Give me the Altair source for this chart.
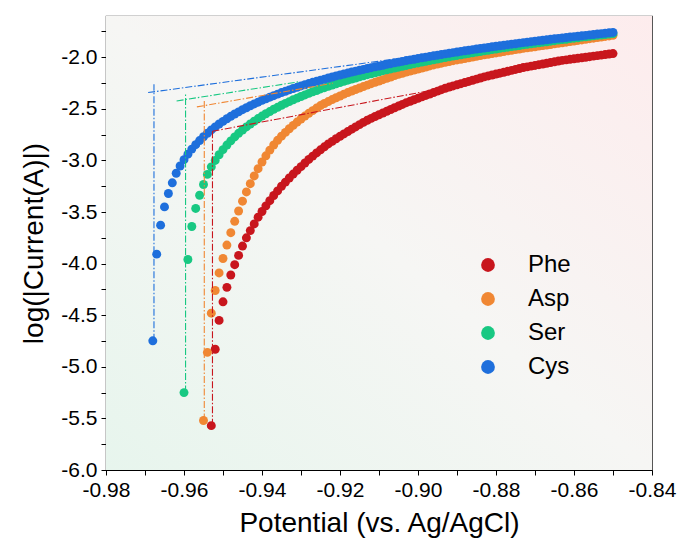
import altair as alt
import pandas as pd

SERIES = ["Phe", "Asp", "Ser", "Cys"]
COLORS = ["#C8161D", "#F08733", "#18C882", "#1E6FDC"]

# potential sweep (V vs Ag/AgCl)
POT = [-0.968, -0.967, -0.966, -0.965, -0.964, -0.963, -0.962, -0.961, -0.960, -0.959,
       -0.958, -0.957, -0.956, -0.955, -0.954, -0.953, -0.952, -0.951, -0.950, -0.949,
       -0.948, -0.947, -0.946, -0.945, -0.944, -0.943, -0.942, -0.941, -0.940, -0.939,
       -0.938, -0.937, -0.936, -0.935, -0.934, -0.933, -0.932, -0.931, -0.930, -0.929,
       -0.928, -0.927, -0.926, -0.925, -0.924, -0.923, -0.922, -0.921, -0.920, -0.919,
       -0.918, -0.917, -0.916, -0.915, -0.914, -0.913, -0.912, -0.911, -0.910, -0.909,
       -0.908, -0.907, -0.906, -0.905, -0.904, -0.903, -0.902, -0.901, -0.900, -0.899,
       -0.898, -0.897, -0.896, -0.895, -0.894, -0.893, -0.892, -0.891, -0.890, -0.889,
       -0.888, -0.887, -0.886, -0.885, -0.884, -0.883, -0.882, -0.881, -0.880, -0.879,
       -0.878, -0.877, -0.876, -0.875, -0.874, -0.873, -0.872, -0.871, -0.870, -0.869,
       -0.868, -0.867, -0.866, -0.865, -0.864, -0.863, -0.862, -0.861, -0.860, -0.859,
       -0.858, -0.857, -0.856, -0.855, -0.854, -0.853, -0.852, -0.851, -0.850]

PHE = [-5.57, -4.83, -4.55, -4.37, -4.23, -4.11, -4.01, -3.92, -3.83, -3.75,
       -3.68, -3.615, -3.55, -3.495, -3.44, -3.39, -3.34, -3.295, -3.25, -3.21,
       -3.17, -3.132, -3.095, -3.06, -3.025, -2.99, -2.958, -2.927, -2.897, -2.868,
       -2.84, -2.815, -2.79, -2.766, -2.743, -2.72, -2.697, -2.675, -2.653, -2.631,
       -2.61, -2.592, -2.574, -2.557, -2.54, -2.523, -2.506, -2.489, -2.473, -2.457,
       -2.44, -2.426, -2.412, -2.398, -2.384, -2.37, -2.356, -2.342, -2.328, -2.314,
       -2.30, -2.289, -2.278, -2.267, -2.256, -2.245, -2.234, -2.223, -2.212, -2.201,
       -2.19, -2.181, -2.172, -2.163, -2.154, -2.145, -2.136, -2.127, -2.118, -2.109,
       -2.10, -2.093, -2.086, -2.079, -2.072, -2.065, -2.058, -2.051, -2.044, -2.037,
       -2.03, -2.025, -2.02, -2.015, -2.01, -2.005, -2.0, -1.994, -1.989, -1.984,
       -1.979, -1.974, -1.969, -1.964]

ASP = [-5.52, -4.86, -4.48, -4.26, -4.09, -3.95, -3.82, -3.70, -3.59, -3.49,
       -3.395, -3.305, -3.225, -3.15, -3.08, -3.015, -2.955, -2.9, -2.85, -2.805,
       -2.765, -2.728, -2.693, -2.66, -2.628, -2.598, -2.57, -2.543, -2.517, -2.492,
       -2.468, -2.448, -2.429, -2.41, -2.392, -2.375, -2.358, -2.342, -2.327, -2.312,
       -2.298, -2.284, -2.27, -2.256, -2.243, -2.23, -2.217, -2.204, -2.191, -2.178,
       -2.166, -2.155, -2.144, -2.134, -2.124, -2.114, -2.104, -2.094, -2.084, -2.074,
       -2.065, -2.057, -2.049, -2.041, -2.033, -2.026, -2.019, -2.012, -2.005, -1.998,
       -1.991, -1.984, -1.977, -1.971, -1.964, -1.958, -1.951, -1.945, -1.938, -1.932,
       -1.926, -1.92, -1.914, -1.909, -1.903, -1.898, -1.892, -1.887, -1.881, -1.876,
       -1.87, -1.865, -1.859, -1.854, -1.848, -1.843, -1.837, -1.832, -1.826, -1.82,
       -1.815, -1.809, -1.804, -1.798, -1.793, -1.787]

SER = [-5.25, -3.96, -3.64, -3.465, -3.337, -3.233, -3.135, -3.062, -3.0, -2.945,
       -2.895, -2.851, -2.81, -2.772, -2.737, -2.705, -2.675, -2.647, -2.62, -2.594,
       -2.57, -2.547, -2.526, -2.504, -2.485, -2.465, -2.447, -2.43, -2.412, -2.396,
       -2.38, -2.365, -2.35, -2.334, -2.322, -2.307, -2.295, -2.282, -2.269, -2.257,
       -2.245, -2.233, -2.222, -2.211, -2.201, -2.19, -2.179, -2.169, -2.16, -2.15,
       -2.14, -2.13, -2.122, -2.113, -2.104, -2.096, -2.087, -2.079, -2.071, -2.062,
       -2.055, -2.047, -2.04, -2.032, -2.025, -2.017, -2.009, -2.003, -1.995, -1.989,
       -1.982, -1.976, -1.969, -1.963, -1.956, -1.95, -1.944, -1.938, -1.932, -1.925,
       -1.92, -1.914, -1.908, -1.902, -1.897, -1.892, -1.886, -1.88, -1.875, -1.87,
       -1.865, -1.859, -1.854, -1.85, -1.844, -1.839, -1.834, -1.829, -1.825, -1.819,
       -1.815, -1.811, -1.805, -1.801, -1.797, -1.792, -1.788, -1.784, -1.779, -1.775,
       -1.771]

CYS = [-4.748, -3.908, -3.627, -3.45, -3.32, -3.217, -3.124, -3.054, -2.992, -2.939,
       -2.89, -2.847, -2.807, -2.77, -2.736, -2.704, -2.675, -2.647, -2.621, -2.596,
       -2.572, -2.55, -2.529, -2.508, -2.489, -2.47, -2.452, -2.435, -2.418, -2.403,
       -2.387, -2.372, -2.357, -2.342, -2.33, -2.316, -2.303, -2.291, -2.278, -2.266,
       -2.255, -2.243, -2.233, -2.222, -2.212, -2.201, -2.191, -2.181, -2.172, -2.162,
       -2.153, -2.143, -2.135, -2.126, -2.118, -2.109, -2.101, -2.092, -2.085, -2.077,
       -2.069, -2.062, -2.054, -2.047, -2.04, -2.032, -2.025, -2.019, -2.011, -2.005,
       -1.999, -1.992, -1.986, -1.98, -1.973, -1.967, -1.961, -1.955, -1.949, -1.943,
       -1.937, -1.932, -1.926, -1.92, -1.915, -1.91, -1.905, -1.898, -1.894, -1.889,
       -1.884, -1.878, -1.873, -1.869, -1.863, -1.858, -1.854, -1.849, -1.844, -1.839,
       -1.835, -1.831, -1.826, -1.821, -1.817, -1.813, -1.809, -1.804, -1.80, -1.796,
       -1.792, -1.788, -1.783, -1.779, -1.775, -1.771, -1.767, -1.763, -1.759]

# Tafel extrapolation guide lines (dash-dot): series, x1, y1, x2, y2
GUIDE_SERIES = ["Phe", "Phe", "Asp", "Asp", "Ser", "Ser", "Cys", "Cys"]
GUIDE_X1 = [-0.9527, -0.9527, -0.9548, -0.9567, -0.9596, -0.9619, -0.9677, -0.9692]
GUIDE_Y1 = [-5.57, -2.717, -5.52, -2.481, -5.25, -2.423, -4.748, -2.342]
GUIDE_X2 = [-0.9527, -0.896, -0.9548, -0.9218, -0.9596, -0.9303, -0.9677, -0.850]
GUIDE_Y2 = [-2.717, -2.316, -2.416, -2.252, -2.352, -2.236, -2.262, -1.73]

X_TICKS = [-0.98, -0.97, -0.96, -0.95, -0.94, -0.93, -0.92, -0.91, -0.90,
           -0.89, -0.88, -0.87, -0.86, -0.85, -0.84]
Y_TICKS = [-6.0, -5.75, -5.5, -5.25, -5.0, -4.75, -4.5, -4.25, -4.0, -3.75,
           -3.5, -3.25, -3.0, -2.75, -2.5, -2.25, -2.0, -1.75]

rows = []
for name, vals in zip(SERIES, [PHE, ASP, SER, CYS]):
    pots = POT[-len(vals):]
    for p, v in zip(pots, vals):
        rows.append({"series": name, "E": p, "logI": v})
df = pd.DataFrame(rows)

guides = pd.DataFrame({"series": GUIDE_SERIES, "x1": GUIDE_X1, "y1": GUIDE_Y1,
                       "x2": GUIDE_X2, "y2": GUIDE_Y2})

W, H = 546, 454
FONT = "Liberation Sans"

xscale = alt.Scale(domain=[-0.98, -0.84], nice=False, zero=False)
yscale = alt.Scale(domain=[-6.0, -1.6], nice=False, zero=False)
cscale = alt.Scale(domain=SERIES, range=COLORS)

xaxis = alt.Axis(values=X_TICKS, title="Potential (vs. Ag/AgCl)",
                 labelExpr="abs(round(datum.value*100)) % 2 == 0 ? '-' + format(abs(datum.value), '.2f') : ''",
                 grid=False, tickSize=5, tickColor="black", domainColor="black",
                 labelColor="black", titleColor="black", labelFont=FONT, titleFont=FONT,
                 labelFontSize=21, titleFontSize=28, titleFontWeight="normal",
                 labelPadding=4, titlePadding=9, labelFlush=False, labelOverlap=False)
yaxis = alt.Axis(values=Y_TICKS, title="log(|Current(A)|)",
                 labelExpr="round(datum.value*4) % 2 == 0 ? '-' + format(abs(datum.value), '.1f') : ''",
                 grid=False, tickSize=5, tickColor="black", domainColor="black",
                 labelColor="black", titleColor="black", labelFont=FONT, titleFont=FONT,
                 labelFontSize=21, titleFontSize=28, titleFontWeight="normal",
                 labelPadding=4, titlePadding=12, labelFlush=False, labelOverlap=False)

bg = alt.Chart(alt.Data(values=[{}])).mark_rect(
    color=alt.Gradient(gradient="linear",
                       stops=[alt.GradientStop(color="#e7f5ed", offset=0),
                              alt.GradientStop(color="#f6f6f4", offset=0.5),
                              alt.GradientStop(color="#fdeced", offset=1)],
                       x1=0, y1=1, x2=1, y2=0)
).encode(x=alt.value(0), x2=alt.value(W), y=alt.value(0), y2=alt.value(H))

points = alt.Chart(df).mark_circle(size=80, opacity=1).encode(
    x=alt.X("E:Q", scale=xscale, axis=xaxis),
    y=alt.Y("logI:Q", scale=yscale, axis=yaxis),
    color=alt.Color("series:N", scale=cscale, sort=SERIES,
                    legend=alt.Legend(orient="none", legendX=370, legendY=237, title=None,
                                      labelFontSize=24, labelFont=FONT, labelColor="black",
                                      symbolSize=190, symbolType="circle", symbolStrokeWidth=0,
                                      rowPadding=10, labelOffset=28, padding=0))
)

lines = alt.Chart(guides).mark_rule(strokeWidth=1.1, strokeDash=[7, 2, 1.5, 2]).encode(
    x=alt.X("x1:Q", scale=xscale, axis=xaxis),
    y=alt.Y("y1:Q", scale=yscale, axis=yaxis),
    x2="x2:Q", y2="y2:Q",
    color=alt.Color("series:N", scale=cscale, legend=None)
)

chart = alt.layer(bg, points, lines).properties(
    width=W, height=H,
    autosize=alt.AutoSizeParams(type="none"),
    padding={"left": 106, "top": 16, "right": 35, "bottom": 75},
    background="white"
).configure_view(stroke="#444", strokeWidth=1.2)

chart.save("out.html", embed_options={"renderer": "svg", "actions": False})
